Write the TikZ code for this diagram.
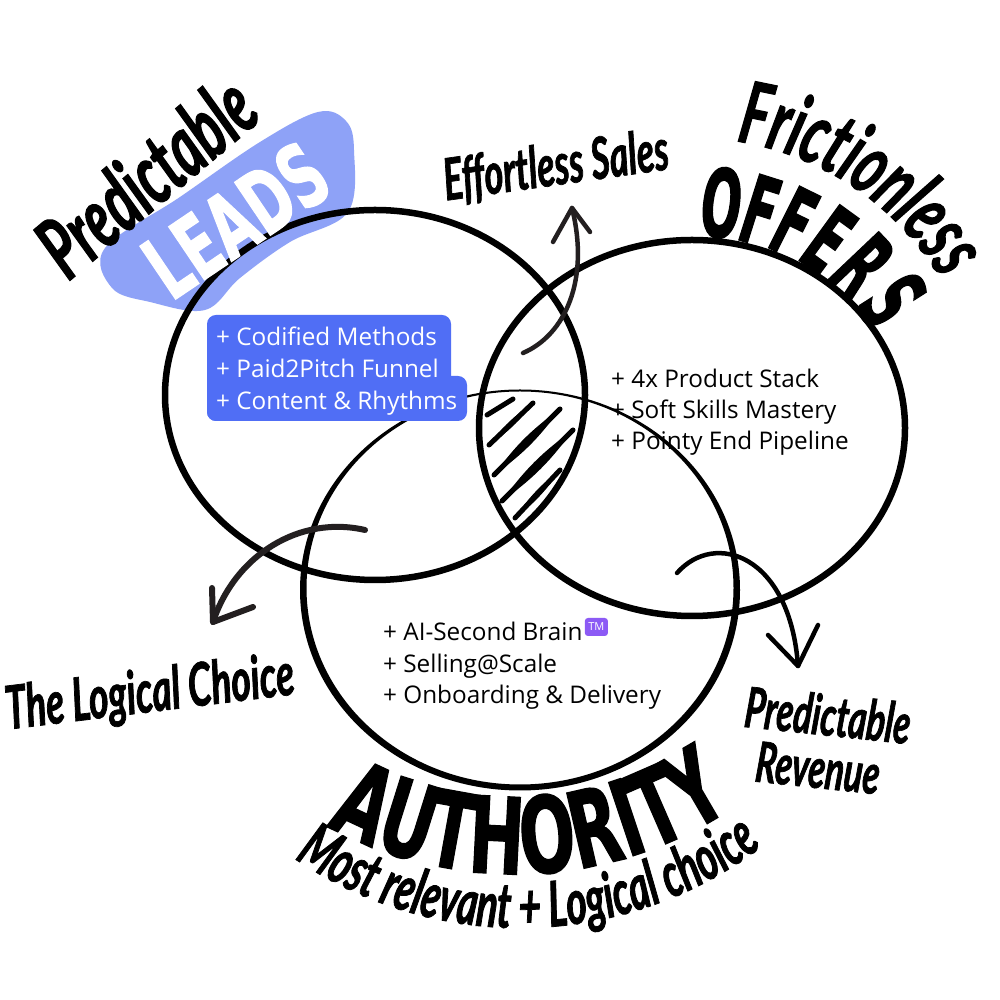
\documentclass[tikz,border=0pt]{standalone}
\usepackage{fontspec}
\setmainfont{Open Sans}
\newfontfamily\capsfont{DejaVu Sans}[FakeStretch=0.62, FakeBold=1.2]
\newfontfamily\offfont{DejaVu Sans}[FakeStretch=0.5, FakeBold=1.2]
\newfontfamily\brushfont{Lato}[FakeStretch=0.62, FakeBold=1.2]
\usetikzlibrary{decorations.text}
\definecolor{blob}{RGB}{142,162,247}
\definecolor{boxblue}{RGB}{80,110,245}
\definecolor{tmpurple}{RGB}{140,90,245}
\definecolor{ink}{RGB}{35,31,32}
\tikzset{
  ring/.style={line width=6.5pt, draw=black},
  listtext/.style={anchor=base west, inner sep=0pt, font=\fontsize{24.3}{28}\selectfont},
  brushtext/.style={inner sep=0pt, font=\brushfont\bfseries\itshape\fontsize{#1}{#1}\selectfont},
  arrowline/.style={line cap=round, line join=round},
  hatchline/.style={line width=5pt, line cap=round},
  offerletter/.style={inner sep=0pt, font=\offfont\bfseries\fontsize{95}{95}\selectfont},
  tm/.style={fill=tmpurple, rounded corners=3pt, text=white, font=\fontsize{11}{11}\selectfont, inner sep=0pt, minimum width=23pt, minimum height=18pt},
}
\begin{document}
\begin{tikzpicture}[x=1pt,y=1pt]
\fill[white] (0,0) rectangle (1000,1000);
\useasboundingbox (0,0) rectangle (1000,1000);

% blob behind LEADS
\fill[blob] plot[smooth cycle, tension=0.6] coordinates {(105,752) (112,712) (150,698) (205,690) (240,722) (290,758) (348,788) (354,850) (346,879) (318,888) (260,858) (180,803)};

% list texts (under the rings)
\node[listtext] (r1) at (611,612) {+ 4x Product Stack};
\node[listtext] (r2) at (611,581) {+ Soft Skills Mastery};
\node[listtext] (r3) at (611,550) {+ Pointy End Pipeline};
\node[listtext] (b1) at (383,359) {+ AI-Second Brain};
\node[listtext] (b2) at (383,327.5) {+ Selling@Scale};
\node[listtext] (b3) at (383,296) {+ Onboarding \& Delivery};
\node[tm, anchor=west] (tm) at ([xshift=2pt, yshift=14pt]b1.base east) {TM};

% rings
\draw[ring] (375,605) ellipse [x radius=210, y radius=185];
\draw[ring] (692,572) ellipse [x radius=213, y radius=188];
\fill[even odd rule] (520,410) ellipse [x radius=220, y radius=200.5]
                     (520,412) ellipse [x radius=213.5, y radius=196.5];

% hatching of the common part
\foreach \xa/\ya/\xb/\yb in {487/585/513/601, 489/555/533/597, 494/525/560/591, 502/499/573/570, 515/482/560/530}{
  \fill (\xa,\ya) to[bend left=9] (\xb,\yb) to[bend left=9] (\xa,\ya);
  \draw[hatchline] (\xa,\ya) -- (\xb,\yb);
}

% blue box
\fill[boxblue, rounded corners=9pt] (207,579) rectangle (451,685);
\fill[boxblue, rounded corners=9pt] (207,579) rectangle (467,624);
\node[listtext, text=white] (l1) at (216,654) {+ Codified Methods};
\node[listtext, text=white] (l2) at (216,622) {+ Paid2Pitch Funnel};
\node[listtext, text=white] (l3) at (216,590) {+ Content \& Rhythms};

% LEADS
\node[rotate=34, text=white, inner sep=0pt, font=\capsfont\bfseries\fontsize{88}{88}\selectfont] (leads) at (236,780) {LEADS};
\node[brushtext=86, rotate=40, anchor=base] (pl) at (166,800) {Predictable};

% arrows
\coordinate (a1s) at (523,647); \coordinate (a1e) at (572,792);
\coordinate (a1l) at (553,758); \coordinate (a1r) at (590,768);
\draw[arrowline, ink, line width=4.5pt] (a1s) .. controls (565,665) and (590,720) .. (a1e);
\draw[arrowline, ink, line width=4.5pt] (a1l) -- (a1e) -- (a1r);

\coordinate (a2s) at (365,470); \coordinate (a2e) at (213,378);
\coordinate (a2l) at (212,412); \coordinate (a2r) at (253,393);
\draw[arrowline, ink, line width=6pt] (a2s) .. controls (300,485) and (235,445) .. (a2e);
\draw[arrowline, ink, line width=6pt] (a2l) -- (a2e) -- (a2r);

\coordinate (a3s) at (677,427); \coordinate (a3e) at (798,334);
\coordinate (a3l) at (768,365); \coordinate (a3r) at (818,375);
\draw[arrowline, black, line width=4.5pt] (a3s) .. controls (715,470) and (790,445) .. (a3e);
\draw[arrowline, black, line width=4.5pt] (a3l) -- (a3e) -- (a3r);

% brush labels
\node[brushtext=58, rotate=8] (eff) at (556,833) {Effortless Sales};
\node[brushtext=60, rotate=7] (tlc) at (150,305) {The Logical Choice};
\node[brushtext=56, rotate=-6] (pr1) at (828,285) {Predictable};
\node[brushtext=56, rotate=-6] (pr2) at (818,232) {Revenue};

% curved labels
\path[decorate, decoration={text along path, text align=center,
  text={|\brushfont\bfseries\itshape\fontsize{86}{86}\selectfont|Frictionless}}]
  ([shift={(692,572)}]100:290) arc[start angle=100, end angle=12, radius=290];
\foreach \ch/\ang/\rad [count=\i] in {O/82.5/227, F/72.5/228, F/63.5/230, E/54/233, R/43.5/236, S/32.5/238}
  \node[offerletter, rotate=\ang-90] (off\i) at ([shift={(692,572)}]\ang:\rad) {\ch};
\path[decorate, decoration={text along path, text align=center,
  text={|\capsfont\bfseries\fontsize{106}{106}\selectfont|AUTHORITY}}]
  ([shift={(515,518)}]220:392) arc[start angle=220, end angle=325, radius=392];
\path[decorate, decoration={text along path, text align=center,
  text={|\brushfont\bfseries\itshape\fontsize{63}{63}\selectfont|Most relevant + Logical choice}}]
  ([shift={(520,472)}]225:400) arc[start angle=225, end angle=318, radius=400];
\end{tikzpicture}
\end{document}
